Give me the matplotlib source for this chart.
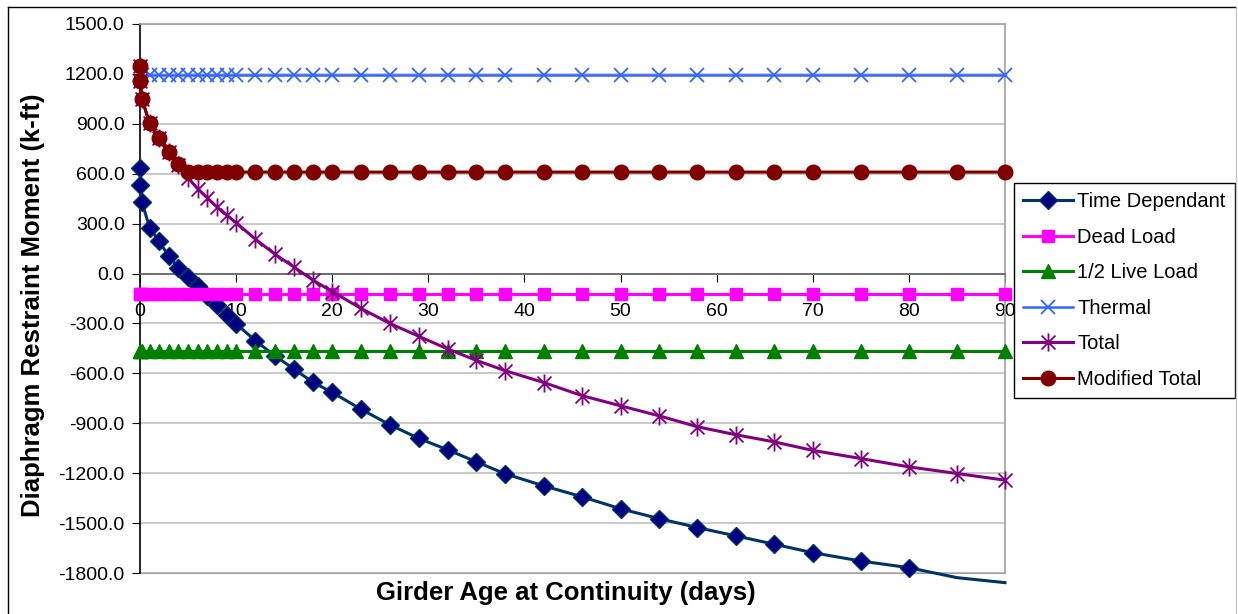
import numpy as np
import matplotlib.pyplot as plt
from matplotlib.lines import Line2D
from matplotlib.path import Path

plt.rcParams['font.family'] = ['Liberation Sans', 'DejaVu Sans']

# girder age (days)
days = [0, 0.04, 0.2, 1, 2, 3, 4, 5, 6, 7, 8, 9, 10, 12, 14, 16, 18, 20, 23, 26,
        29, 32, 35, 38, 42, 46, 50, 54, 58, 62, 66, 70, 75, 80, 85, 90]

time_dep = [637, 535, 430, 276, 193, 103, 35, -22, -72, -132, -192, -252, -302,
            -403, -493, -573, -654, -714, -816, -909, -991, -1059, -1132, -1204,
            -1276, -1342, -1414, -1473, -1527, -1577, -1627, -1678, -1728, -1768,
            -1828, -1858]
dead_load = [-120] * len(days)
live_load = [-465] * len(days)
thermal = [1195] * len(days)
total = [1249, 1155, 1050, 902, 812, 728, 655, 575, 510, 455, 400, 352, 306,
         207, 118, 40, -40, -108, -210, -300, -377, -453, -522, -584, -655,
         -734, -795, -855, -921, -969, -1012, -1063, -1112, -1162, -1202, -1242]
mod_total = [1249, 1155, 1050, 902, 812, 728, 658, 610, 610, 610, 610, 610, 610,
             610, 610, 610, 610, 610, 610, 610, 610, 610, 610, 610, 610, 610,
             610, 610, 610, 610, 610, 610, 610, 610, 610, 610]

names = ['Time Dependant', 'Dead Load', '1/2 Live Load', 'Thermal',
         'Total', 'Modified Total']

y_ticks = np.arange(-1800, 1501, 300)
x_ticks = np.arange(0, 91, 10)

# excel-like star: X plus a vertical bar
star = Path([(-1, -1), (1, 1), (-1, 1), (1, -1), (0, -1.3), (0, 1.3)],
            [Path.MOVETO, Path.LINETO, Path.MOVETO, Path.LINETO,
             Path.MOVETO, Path.LINETO])

W, H = 1238, 614
fig = plt.figure(figsize=(W / 100, H / 100), dpi=100)
ax = fig.add_axes([140 / W, 1 - 573 / H, 865 / W, 549 / H])

lw = 2.2
styles = [
    dict(color='#003366', marker='D', ms=9, mfc='#000080', mec='#003366', lw=lw),
    dict(color='#FF00FF', marker='s', ms=9, lw=lw),
    dict(color='#008000', marker='^', ms=10, lw=lw),
    dict(color='#3366FF', marker='x', ms=10.5, mew=1.3, lw=1.8),
    dict(color='#800080', marker=star, ms=13, mew=1.3, lw=lw),
    dict(color='#800000', marker='o', ms=10.5, lw=lw),
]

# time dependant: line runs past the bottom, markers only inside the plot area
ax.plot(days, time_dep, color=styles[0]['color'], lw=lw, clip_on=False, zorder=3)
td_marks = np.ma.masked_less(np.array(time_dep, dtype=float), -1800)
ax.plot(days, td_marks, ls='none', marker='D', ms=9, mfc='#000080',
        mec='#003366', clip_on=False, zorder=3)
for vals, st in zip([dead_load, live_load, thermal, total, mod_total], styles[1:]):
    ax.plot(days, vals, clip_on=False, zorder=3, **st)

ax.set_xlim(0, 90)
ax.set_ylim(-1800, 1500)
ax.set_yticks(y_ticks)
ax.set_yticklabels(['%.1f' % v for v in y_ticks])
ax.set_xticks(x_ticks)
ax.grid(axis='y', color='#c0c0c0', lw=1.2, zorder=0)

ax.spines['bottom'].set_position(('data', 0))
ax.spines['bottom'].set_color('#606060')
ax.spines['bottom'].set_linewidth(1.2)
ax.spines['left'].set_color('black')
ax.spines['left'].set_linewidth(1.2)
for s in ['top', 'right']:
    ax.spines[s].set_color('#a0a0a0')
    ax.spines[s].set_linewidth(1.2)
ax.axhline(-1800, color='#a0a0a0', lw=1.5, clip_on=False, zorder=1)

ax.tick_params(axis='y', direction='out', length=6, labelsize=14, pad=5)
ax.tick_params(axis='x', direction='out', length=6, labelsize=14, pad=15,
               color='black')

fig.text(33 / W, 1 - 305 / H, 'Diaphragm Restraint Moment (k-ft)',
         rotation=90, ha='center', va='center', fontsize=18.5, fontweight='bold')
fig.text(566 / W, 1 - 593 / H, 'Girder Age at Continuity (days)',
         ha='center', va='center', fontsize=18.5, fontweight='bold')

handles = [Line2D([], [], **st) for st in styles]
leg = ax.legend(handles, names,
                loc='upper left', bbox_to_anchor=(1014 / W, 1 - 183 / H),
                bbox_transform=fig.transFigure, fontsize=14.5, frameon=True,
                fancybox=False, edgecolor='black', framealpha=1,
                handlelength=2.5, labelspacing=0.82, borderpad=0.45,
                handletextpad=0.2, borderaxespad=0)
leg.get_frame().set_linewidth(1.0)

# chart area border
fig.add_artist(Line2D([8 / W, 8 / W], [0, 1 - 7 / H], color='black', lw=1,
                      transform=fig.transFigure))
fig.add_artist(Line2D([8 / W, 1236 / W], [1 - 7 / H, 1 - 7 / H], color='black',
                      lw=1, transform=fig.transFigure))
fig.add_artist(Line2D([1236 / W, 1236 / W], [0, 1 - 7 / H], color='#c8c8c8',
                      lw=1, transform=fig.transFigure))

fig.savefig('out.png', dpi=100)
